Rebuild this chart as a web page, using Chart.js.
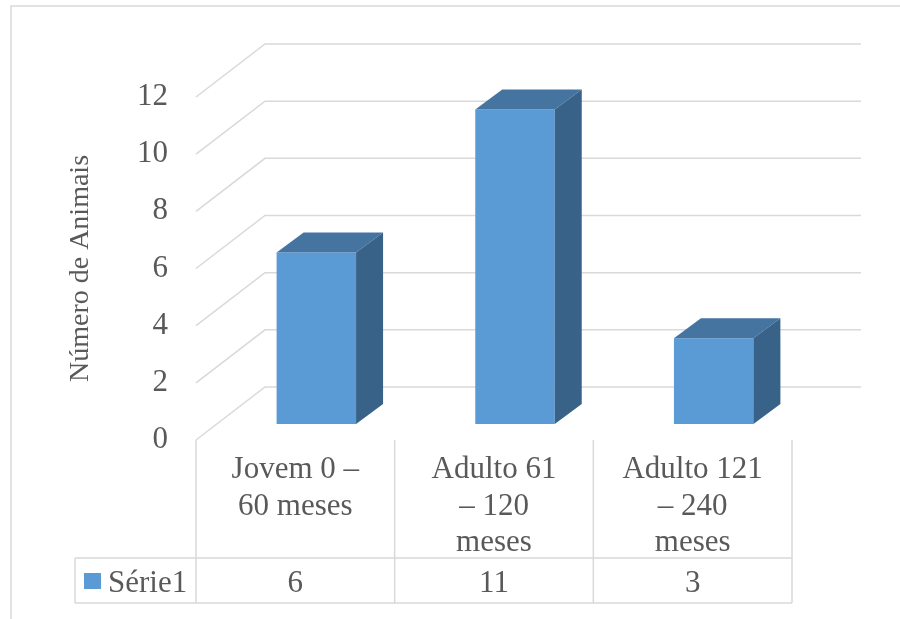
<!DOCTYPE html>
<html>
<head>
<meta charset="utf-8">
<script src="https://cdn.jsdelivr.net/npm/chart.js@4/dist/chart.umd.min.js"></script>
<style>
  body { margin: 0; background: #fff; }
  canvas { display: block; }
</style>
</head>
<body>
<canvas id="chart" width="900" height="619"></canvas>
<script>

// data
const categories = [['Jovem 0 –', '60 meses'], ['Adulto 61', '– 120', 'meses'], ['Adulto 121', '– 240', 'meses']];
const seriesName = 'Série1';
const values = [6, 11, 3];
const yTitle = 'Número de Animais';
const yMax = 12;
const yStep = 2;

const FONT = '"Liberation Serif", "Times New Roman", serif';
const TEXT = '#595959';
const LINE = '#d9d9d9';
const BAR = '#5b9bd5';
const BAR_TOP = '#4674a1';
const BAR_SIDE = '#386288';

// 3d look: depth of the floor, position of the bars inside it, bar thickness
const DEPTH = { x: 69, y: -53 };
const BAR_SHIFT = { x: 21, y: -16 };
const BAR_DEPTH = { x: 27, y: -20 };

const poly = (ctx, pts, color) => {
    ctx.beginPath();
    ctx.moveTo(pts[0][0], pts[0][1]);
    pts.slice(1).forEach(p => ctx.lineTo(p[0], p[1]));
    ctx.closePath();
    ctx.fillStyle = color;
    ctx.fill();
};

const excel3d = {
    id: 'excel3d',
    beforeDraw(chart) {
        const ctx = chart.ctx;
        ctx.save();
        ctx.fillStyle = '#fff';
        ctx.fillRect(0, 0, chart.width, chart.height);
        // outer border (cut off on the right and at the bottom)
        ctx.strokeStyle = LINE;
        ctx.lineWidth = 1.5;
        ctx.beginPath();
        ctx.moveTo(11, chart.height);
        ctx.lineTo(11, 6);
        ctx.lineTo(chart.width, 6);
        ctx.stroke();
        ctx.restore();
    },
    beforeDatasetsDraw(chart) {
        const ctx = chart.ctx;
        const y = chart.scales.y;
        const { left, right } = chart.chartArea;
        // back wall gridlines + side wall diagonals
        ctx.save();
        ctx.strokeStyle = LINE;
        ctx.lineWidth = 1.5;
        y.ticks.forEach(t => {
            const py = y.getPixelForValue(t.value);
            ctx.beginPath();
            ctx.moveTo(left, py);
            ctx.lineTo(left + DEPTH.x, py + DEPTH.y);
            ctx.lineTo(right + DEPTH.x, py + DEPTH.y);
            ctx.stroke();
        });
        ctx.restore();
        // bars sit inside the depth
        ctx.save();
        ctx.translate(BAR_SHIFT.x, BAR_SHIFT.y);
    },
    afterDatasetsDraw(chart) {
        const ctx = chart.ctx;
        chart.getDatasetMeta(0).data.forEach(bar => {
            const { x, y, base, width } = bar.getProps(['x', 'y', 'base', 'width'], true);
            const l = x - width / 2, r = x + width / 2;
            poly(ctx, [[l, y], [r, y], [r + BAR_DEPTH.x, y + BAR_DEPTH.y], [l + BAR_DEPTH.x, y + BAR_DEPTH.y]], BAR_TOP);
            poly(ctx, [[r, y], [r + BAR_DEPTH.x, y + BAR_DEPTH.y], [r + BAR_DEPTH.x, base + BAR_DEPTH.y], [r, base]], BAR_SIDE);
        });
        ctx.restore();
    },
    afterDraw(chart) {
        // data table under the plot
        const ctx = chart.ctx;
        const xs = chart.scales.x;
        const { left, right, bottom } = chart.chartArea;
        const half = (xs.getPixelForValue(1) - xs.getPixelForValue(0)) / 2;
        const rowTop = 558, rowBottom = 603, legendLeft = 75;

        ctx.save();
        ctx.strokeStyle = LINE;
        ctx.lineWidth = 1.5;
        ctx.beginPath();
        categories.forEach((c, i) => {
            const bx = xs.getPixelForValue(i) - half;
            ctx.moveTo(bx, bottom);
            ctx.lineTo(bx, rowBottom);
        });
        ctx.moveTo(right, bottom);
        ctx.lineTo(right, rowBottom);
        ctx.moveTo(legendLeft, rowTop);
        ctx.lineTo(right, rowTop);
        ctx.moveTo(legendLeft, rowBottom);
        ctx.lineTo(right, rowBottom);
        ctx.moveTo(legendLeft, rowTop);
        ctx.lineTo(legendLeft, rowBottom);
        ctx.stroke();

        ctx.fillStyle = TEXT;
        ctx.font = '31px ' + FONT;
        ctx.textAlign = 'center';
        ctx.textBaseline = 'alphabetic';
        categories.forEach((lines, i) => {
            const cx = xs.getPixelForValue(i);
            lines.forEach((line, k) => ctx.fillText(line, cx, 478 + k * 36.5));
            ctx.fillText(String(values[i]), cx, 592);
        });

        // legend key
        ctx.fillStyle = BAR;
        ctx.fillRect(84, 573, 17, 16);
        ctx.fillStyle = TEXT;
        ctx.textAlign = 'left';
        ctx.fillText(seriesName, 108, 592);
        ctx.restore();
    }
};

new Chart(document.getElementById('chart'), {
    type: 'bar',
    data: {
        labels: categories,
        datasets: [{
            label: seriesName,
            data: values,
            backgroundColor: BAR,
            barPercentage: 0.4,
            categoryPercentage: 1,
        }]
    },
    options: {
        responsive: false,
        animation: false,
        layout: { padding: { left: 0, top: 97, right: 108, bottom: 179 } },
        scales: {
            x: { display: false },
            y: {
                min: 0,
                max: yMax,
                afterFit: (scale) => { scale.width = 196; },
                ticks: {
                    stepSize: yStep,
                    padding: 28,
                    color: TEXT,
                    font: { family: FONT, size: 31 },
                },
                grid: { display: false, drawTicks: false },
                border: { display: false },
                title: {
                    display: true,
                    text: yTitle,
                    color: TEXT,
                    font: { family: FONT, size: 28 },
                    padding: { top: 64, bottom: 0 },
                }
            }
        },
        plugins: {
            legend: { display: false },
            tooltip: { enabled: false },
        }
    },
    plugins: [excel3d]
});

</script>
</body>
</html>
